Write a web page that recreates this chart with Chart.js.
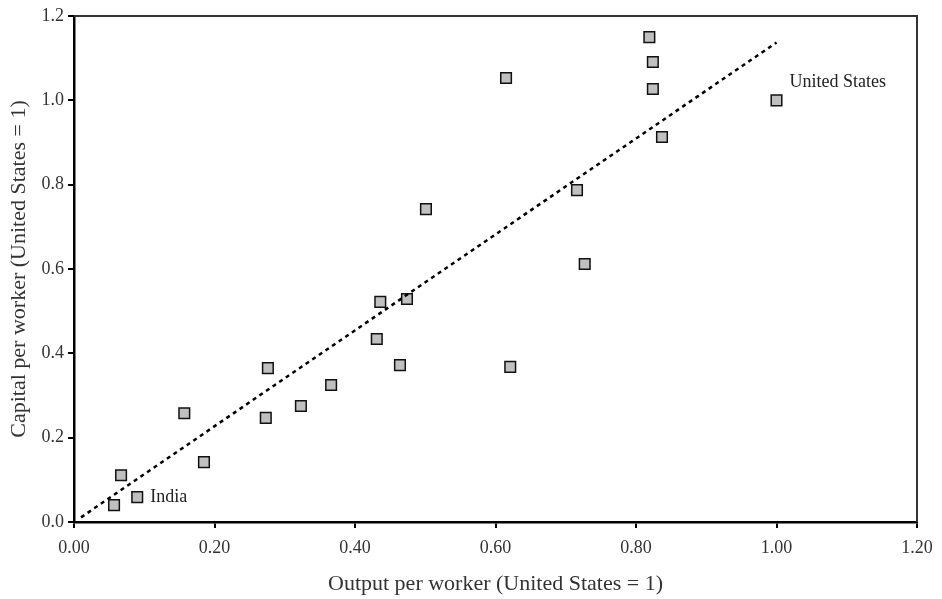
<!DOCTYPE html>
<html>
<head>
<meta charset="utf-8">
<script src="https://cdn.jsdelivr.net/npm/chart.js@4.4.0/dist/chart.umd.min.js"></script>
<style>
  body { margin:0; background:#fff; }
  #wrap { width:942px; height:599px; }
</style>
</head>
<body>
<div id="wrap"><canvas id="capitalchart" width="942" height="599"></canvas></div>
<script>
// output per worker (x) and capital per worker (y), United States = 1
const outputPerWorker = [0.057, 0.067, 0.090, 0.157, 0.185, 0.273, 0.276, 0.323, 0.366, 0.431, 0.436, 0.474, 0.464, 0.501, 0.615, 0.621, 0.716, 0.727, 0.819, 0.824, 0.824, 0.837, 1.00]
const capitalPerWorker = [0.040, 0.111, 0.059, 0.258, 0.142, 0.247, 0.365, 0.275, 0.325, 0.434, 0.522, 0.529, 0.372, 0.742, 1.053, 0.368, 0.787, 0.612, 1.150, 1.091, 1.027, 0.913, 1.00]

// fitted trend line end points
const trendX = [0.01, 1.0]
const trendY = [0.011, 1.137]

// labelled countries
const labelNames = ['India', 'United States']
const labelX = [0.090, 1.00]
const labelY = [0.059, 1.00]

const xTicks = [0, 0.2, 0.4, 0.6, 0.8, 1.0, 1.2]
const yTicks = [0, 0.2, 0.4, 0.6, 0.8, 1.0, 1.2]

const serif = "'Liberation Serif', 'DejaVu Serif', serif"

const points = outputPerWorker.map((x, i) => ({x: x, y: capitalPerWorker[i]}))
const trend = trendX.map((x, i) => ({x: x, y: trendY[i]}))

// box around plot + country labels
const framePlugin = {
    id: 'frame',
    afterDraw(chart) {
        const ctx = chart.ctx, a = chart.chartArea
        ctx.save()
        ctx.strokeStyle = '#333'
        ctx.lineWidth = 2
        ctx.beginPath()
        ctx.moveTo(a.left, a.top)
        ctx.lineTo(a.right, a.top)
        ctx.lineTo(a.right, a.bottom)
        ctx.stroke()
        ctx.font = '18px ' + serif
        ctx.fillStyle = '#222'
        ctx.textBaseline = 'middle'
        const xs = chart.scales.x, ys = chart.scales.y
        // India sits to the right, US label up and right
        const offs = [[13, 0], [13, -18]]
        labelNames.forEach((n, i) => {
            ctx.fillText(n, xs.getPixelForValue(labelX[i]) + offs[i][0], ys.getPixelForValue(labelY[i]) + offs[i][1])
        })
        ctx.restore()
    }
}

new Chart(document.getElementById('capitalchart').getContext('2d'), {
    type: 'scatter',
    data: {
        datasets: [
            {
                label: 'Trend',
                data: trend,
                showLine: true,
                borderColor: '#000',
                borderWidth: 2.5,
                borderDash: [4, 4],
                pointRadius: 0,
                fill: false
            },
            {
                label: 'Countries',
                data: points,
                pointStyle: 'rect',
                pointRadius: 7.5,
                pointHoverRadius: 7.5,
                backgroundColor: '#c0c0c0',
                borderColor: '#111',
                borderWidth: 1.5
            }
        ]
    },
    options: {
        responsive: false,
        animation: false,
        layout: { padding: { top: 16, right: 25, left: 0, bottom: 0 } },
        plugins: { legend: { display: false }, tooltip: { enabled: false } },
        scales: {
            x: {
                type: 'linear',
                min: 0, max: 1.2,
                afterBuildTicks: (s) => { s.ticks = xTicks.map(v => ({value: v})) },
                afterFit: (s) => { s.height = 77 },
                border: { display: true, color: '#000', width: 2.5 },
                grid: { drawOnChartArea: false, color: '#000', lineWidth: 2, tickLength: 6 },
                ticks: {
                    color: '#333',
                    padding: 9,
                    font: { family: serif, size: 18 },
                    callback: (v) => Number(v).toFixed(2)
                },
                title: {
                    display: true,
                    text: 'Output per worker (United States = 1)',
                    color: '#333',
                    font: { family: serif, size: 22 },
                    padding: { top: 4, bottom: 2 }
                }
            },
            y: {
                type: 'linear',
                min: 0, max: 1.2,
                afterBuildTicks: (s) => { s.ticks = yTicks.map(v => ({value: v})) },
                afterFit: (s) => { s.width = 74 },
                border: { display: true, color: '#000', width: 2.5 },
                grid: { drawOnChartArea: false, color: '#000', lineWidth: 2, tickLength: 6 },
                ticks: {
                    color: '#333',
                    padding: 4,
                    font: { family: serif, size: 18 },
                    callback: (v) => Number(v).toFixed(1)
                },
                title: {
                    display: true,
                    text: 'Capital per worker (United States = 1)',
                    color: '#333',
                    font: { family: serif, size: 22 },
                    padding: { top: 6, bottom: 4 }
                }
            }
        }
    },
    plugins: [framePlugin]
})
</script>
</body>
</html>
